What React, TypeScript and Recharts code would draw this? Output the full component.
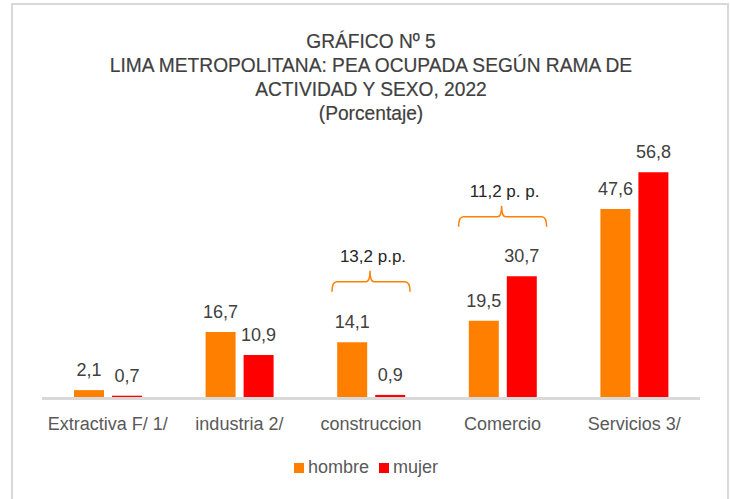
import React from 'react';
import { BarChart, Bar, XAxis, YAxis, LabelList, Legend, ReferenceDot } from 'recharts';

const categories = ['Extractiva F/ 1/', 'industria 2/', 'construccion', 'Comercio', 'Servicios 3/'];
const hombre = [2.1, 16.7, 14.1, 19.5, 47.6];
const mujer = [0.7, 10.9, 0.9, 30.7, 56.8];

const braceCategories = ['construccion', 'Comercio'];
const braceLevels = [29.3, 45.6];
const braceTexts = ['13,2 p.p.', '11,2 p. p.'];

const titleLines = [
  'GRÁFICO Nº 5',
  'LIMA METROPOLITANA: PEA OCUPADA SEGÚN RAMA DE',
  'ACTIVIDAD Y SEXO, 2022',
  '(Porcentaje)',
];

const data = categories.map((c, i) => ({ cat: c, hombre: hombre[i], mujer: mujer[i] }));

const fmt = (v: any) => Number(v).toFixed(1).replace('.', ',');

const braceHalf = [39, 44];

const Brace = (props: any) => {
  const { cx, cy, half, text } = props;
  if (cx == null || cy == null) return null;
  const x0 = cx - half;
  const x1 = cx + half;
  const px = cx - 1;
  const d = `M ${x0} ${cy + 10} Q ${x0} ${cy} ${x0 + 5} ${cy} L ${px - 4} ${cy} Q ${px} ${cy} ${px} ${cy - 11} Q ${px} ${cy} ${px + 4} ${cy} L ${x1 - 5} ${cy} Q ${x1} ${cy} ${x1} ${cy + 10}`;
  return (
    <g>
      <path d={d} fill="none" stroke="#FF8000" strokeWidth={1.5} />
      <text x={cx + 2} y={cy - 20} textAnchor="middle" fontSize={17} fill="#262626">
        {text}
      </text>
    </g>
  );
};

export default function App() {
  return (
    <div
      style={{
        position: 'absolute',
        left: 0,
        top: 0,
        width: 730,
        height: 499,
        background: '#fff',
        fontFamily: '"Liberation Sans", Arial, sans-serif',
        overflow: 'hidden',
      }}
    >
      <div
        style={{
          position: 'absolute',
          left: 11,
          top: 3,
          width: 714,
          height: 510,
          border: '2px solid #d9d9d9',
          boxSizing: 'content-box',
        }}
      />
      <div
        style={{
          position: 'absolute',
          left: 0,
          top: 29,
          width: 742,
          textAlign: 'center',
          color: '#404040',
          fontSize: 20.5,
          lineHeight: '24px',
          transform: 'scaleX(0.935)',
          transformOrigin: '371px 0px',
          WebkitTextStroke: '0.2px #404040',
        }}
      >
        {titleLines.map((t, i) => (
          <div key={i}>{t}</div>
        ))}
      </div>
      <div style={{ position: 'absolute', left: 0, top: 0 }}>
        <BarChart
          width={730}
          height={499}
          data={data}
          margin={{ top: 159.5, right: 30, bottom: 70.5, left: 42 }}
          barSize={30}
          barGap={8}
        >
          <XAxis
            dataKey="cat"
            height={30}
            axisLine={{ stroke: '#d9d9d9', strokeWidth: 3 }}
            tickLine={false}
            tickSize={6}
            tickMargin={13}
            tick={{ fontSize: 18, fill: '#595959' }}
            interval={0}
          />
          <YAxis hide domain={[0, 60]} />
          <Legend
            layout="horizontal"
            verticalAlign="middle"
            align="center"
            iconType="square"
            iconSize={10}
            wrapperStyle={{ top: 457, fontSize: 18 }}
            formatter={(v: any) => <span style={{ color: '#595959' }}>{v}</span>}
          />
          <Bar dataKey="hombre" name="hombre" fill="#FF8000" isAnimationActive={false}>
            <LabelList dataKey="hombre" position="top" offset={14} fill="#404040" fontSize={18} formatter={fmt} />
          </Bar>
          <Bar dataKey="mujer" name="mujer" fill="#FF0000" isAnimationActive={false}>
            <LabelList dataKey="mujer" position="top" offset={14} fill="#404040" fontSize={18} formatter={fmt} />
          </Bar>
          {braceCategories.map((c, i) => (
            <ReferenceDot
              key={c}
              x={c}
              y={braceLevels[i]}
              ifOverflow="visible"
              shape={(p: any) => <Brace cx={p.cx} cy={p.cy} half={braceHalf[i]} text={braceTexts[i]} />}
            />
          ))}
        </BarChart>
      </div>
    </div>
  );
}
